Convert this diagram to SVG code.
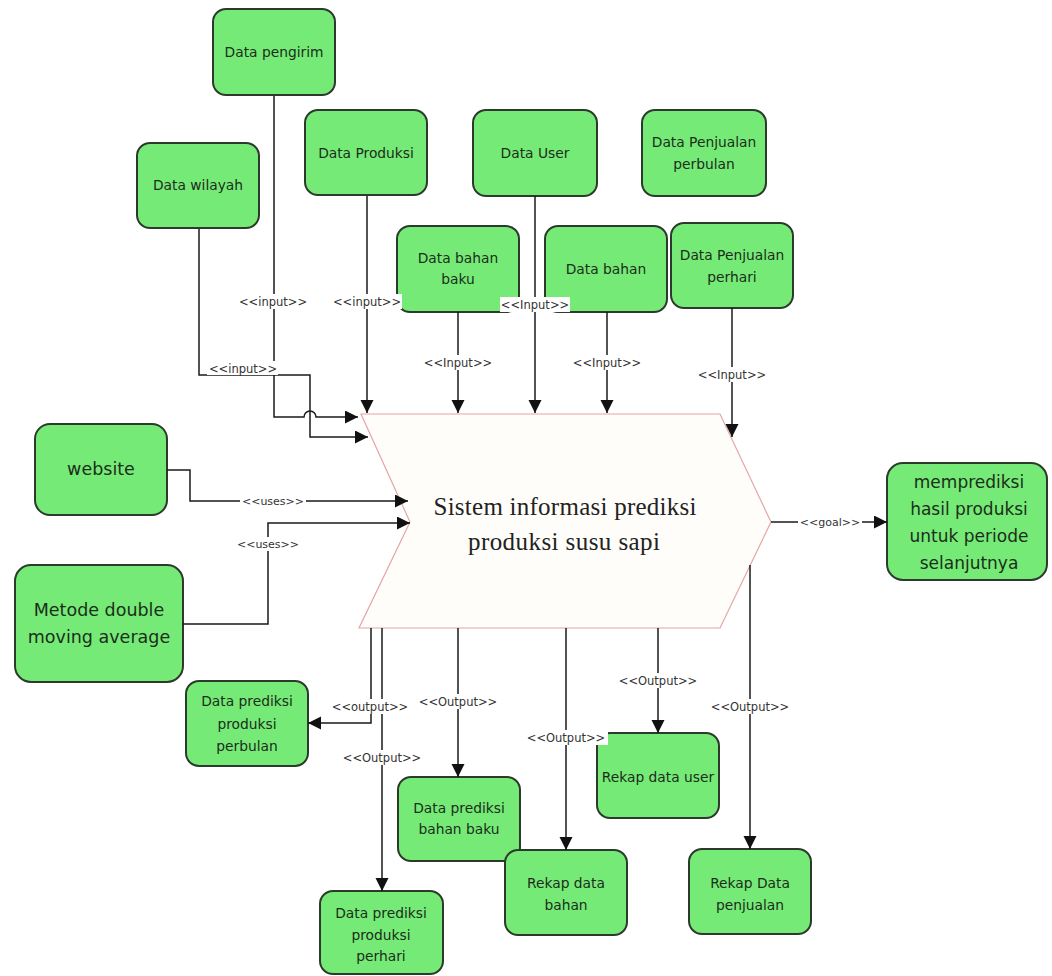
<svg xmlns="http://www.w3.org/2000/svg" width="1052" height="976" viewBox="0 0 1052 976">
<style>
.node{fill:#76ea76;stroke:#2b3a2b;stroke-width:2}
.nt{font-family:"DejaVu Sans",sans-serif;font-size:13.8px;fill:#1b2e1b;text-anchor:middle}
.big{font-size:17.5px}
.goalt{font-size:17px}
.conn{fill:none;stroke:#1a1a1a;stroke-width:1.5}
.lbg{fill:#ffffff}
.lt{font-family:"DejaVu Sans",sans-serif;font-size:11.5px;fill:#333;text-anchor:middle}
.ls{font-size:11px}
.sys{fill:#fffdfa;stroke:#e2a6a6;stroke-width:1.2}
.st{font-family:"Liberation Serif","Times New Roman",serif;font-size:25px;fill:#222;text-anchor:middle}
</style>
<defs>
<marker id="arr" markerUnits="userSpaceOnUse" markerWidth="14" markerHeight="14" refX="13" refY="6.5" orient="auto">
<path d="M0,0 L13,6.5 L0,13 z" fill="#111"/>
</marker>
</defs>
<rect width="1052" height="976" fill="#ffffff"/>

<g id="sistem">
<polygon class="sys" points="361,414 720,414 771,522 720,628 359,628 410,522"/>
<text class="st" x="565" y="515" textLength="263">Sistem informasi prediksi</text>
<text class="st" x="564" y="550" textLength="192">produksi susu sapi</text>
</g>

<g id="data-pengirim"><rect class="node" x="213" y="9" width="122" height="86" rx="13"/><text class="nt" x="274" y="57">Data pengirim</text></g>
<g id="data-wilayah"><rect class="node" x="137" y="143" width="122" height="85" rx="13"/><text class="nt" x="198" y="190">Data wilayah</text></g>
<g id="data-produksi"><rect class="node" x="305" y="110" width="122" height="85" rx="13"/><text class="nt" x="366" y="158">Data Produksi</text></g>
<g id="data-user"><rect class="node" x="473" y="110" width="124" height="86" rx="13"/><text class="nt" x="535" y="158">Data User</text></g>
<g id="data-penjualan-perbulan"><rect class="node" x="642" y="110" width="124" height="86" rx="13"/><text class="nt" x="704" y="147">Data Penjualan</text><text class="nt" x="704" y="169">perbulan</text></g>
<g id="data-bahan-baku"><rect class="node" x="397" y="226" width="122" height="86" rx="13"/><text class="nt" x="458" y="263">Data bahan</text><text class="nt" x="458" y="284">baku</text></g>
<g id="data-bahan"><rect class="node" x="545" y="226" width="122" height="86" rx="13"/><text class="nt" x="606" y="274">Data bahan</text></g>
<g id="data-penjualan-perhari"><rect class="node" x="671" y="223" width="122" height="85" rx="13"/><text class="nt" x="732" y="260">Data Penjualan</text><text class="nt" x="732" y="282">perhari</text></g>
<g id="website"><rect class="node" x="35" y="424" width="132" height="91" rx="15"/><text class="nt big" x="101" y="475">website</text></g>
<g id="metode"><rect class="node" x="15" y="565" width="168" height="117" rx="16"/><text class="nt big" x="99" y="616">Metode double</text><text class="nt big" x="99" y="643">moving average</text></g>
<g id="goal"><rect class="node" x="887" y="463" width="160" height="117" rx="16"/><text class="nt goalt" x="969" y="488">memprediksi</text><text class="nt goalt" x="969" y="515">hasil produksi</text><text class="nt goalt" x="969" y="542">untuk periode</text><text class="nt goalt" x="969" y="569">selanjutnya</text></g>
<g id="prediksi-perbulan"><rect class="node" x="186" y="681" width="122" height="85" rx="13"/><text class="nt" x="247" y="706">Data prediksi</text><text class="nt" x="247" y="729">produksi</text><text class="nt" x="247" y="751">perbulan</text></g>
<g id="prediksi-bahan-baku"><rect class="node" x="398" y="777" width="122" height="84" rx="13"/><text class="nt" x="459" y="813">Data prediksi</text><text class="nt" x="459" y="834">bahan baku</text></g>
<g id="prediksi-perhari"><rect class="node" x="320" y="891" width="123" height="83" rx="13"/><text class="nt" x="381" y="918">Data prediksi</text><text class="nt" x="381" y="940">produksi</text><text class="nt" x="381" y="961">perhari</text></g>
<g id="rekap-bahan"><rect class="node" x="505" y="850" width="122" height="85" rx="13"/><text class="nt" x="566" y="888">Rekap data</text><text class="nt" x="566" y="910">bahan</text></g>
<g id="rekap-user"><rect class="node" x="597" y="733" width="122" height="85" rx="13"/><text class="nt" x="658" y="782">Rekap data user</text></g>
<g id="rekap-penjualan"><rect class="node" x="689" y="849" width="122" height="85" rx="13"/><text class="nt" x="750" y="888">Rekap Data</text><text class="nt" x="750" y="910">penjualan</text></g>

<g id="connectors">
<path class="conn" d="M274,96 V417 H304 a6,6 0 0 1 12,0 H358" marker-end="url(#arr)"/>
<path class="conn" d="M199,229 V375 H310 V437 H368" marker-end="url(#arr)"/>
<path class="conn" d="M367,196 V413" marker-end="url(#arr)"/>
<path class="conn" d="M458,312 V413" marker-end="url(#arr)"/>
<path class="conn" d="M535,196 V413" marker-end="url(#arr)"/>
<path class="conn" d="M607,312 V413" marker-end="url(#arr)"/>
<path class="conn" d="M732,308 V437" marker-end="url(#arr)"/>
<path class="conn" d="M167,470 H190 V501 H408" marker-end="url(#arr)"/>
<path class="conn" d="M183,624 H268 V523 H410" marker-end="url(#arr)"/>
<path class="conn" d="M771,522 H887" marker-end="url(#arr)"/>
<path class="conn" d="M371,628 V723 H308" marker-end="url(#arr)"/>
<path class="conn" d="M382,628 V891" marker-end="url(#arr)"/>
<path class="conn" d="M458,628 V777" marker-end="url(#arr)"/>
<path class="conn" d="M566,628 V850" marker-end="url(#arr)"/>
<path class="conn" d="M658,628 V733" marker-end="url(#arr)"/>
<path class="conn" d="M750,565 V849" marker-end="url(#arr)"/>

<rect class="lbg" x="238" y="294" width="71" height="15"/><text class="lt" x="273" y="306">&lt;&lt;input&gt;&gt;</text>
<rect class="lbg" x="331" y="294" width="71" height="15"/><text class="lt" x="367" y="306">&lt;&lt;input&gt;&gt;</text>
<rect class="lbg" x="207" y="361" width="71" height="14"/><text class="lt" x="243" y="373">&lt;&lt;input&gt;&gt;</text>
<rect class="lbg" x="424" y="355" width="69" height="15"/><text class="lt" x="458" y="367">&lt;&lt;Input&gt;&gt;</text>
<rect class="lbg" x="500" y="297" width="70" height="15"/><text class="lt" x="535" y="309">&lt;&lt;Input&gt;&gt;</text>
<rect class="lbg" x="572" y="355" width="70" height="15"/><text class="lt" x="607" y="367">&lt;&lt;Input&gt;&gt;</text>
<rect class="lbg" x="697" y="367" width="70" height="15"/><text class="lt" x="732" y="379">&lt;&lt;Input&gt;&gt;</text>
<rect class="lbg" x="240" y="494" width="66" height="14"/><text class="lt ls" x="273" y="505">&lt;&lt;uses&gt;&gt;</text>
<rect class="lbg" x="235" y="537" width="66" height="14"/><text class="lt ls" x="268" y="548">&lt;&lt;uses&gt;&gt;</text>
<rect class="lbg" x="798" y="515" width="64" height="14"/><text class="lt ls" x="830" y="526">&lt;&lt;goal&gt;&gt;</text>
<rect class="lbg" x="330" y="699" width="81" height="15"/><text class="lt" x="370" y="711">&lt;&lt;output&gt;&gt;</text>
<rect class="lbg" x="416" y="694" width="84" height="15"/><text class="lt" x="458" y="706">&lt;&lt;Output&gt;&gt;</text>
<rect class="lbg" x="340" y="750" width="84" height="15"/><text class="lt" x="382" y="762">&lt;&lt;Output&gt;&gt;</text>
<rect class="lbg" x="524" y="730" width="84" height="15"/><text class="lt" x="566" y="742">&lt;&lt;Output&gt;&gt;</text>
<rect class="lbg" x="616" y="673" width="84" height="15"/><text class="lt" x="658" y="685">&lt;&lt;Output&gt;&gt;</text>
<rect class="lbg" x="708" y="699" width="84" height="15"/><text class="lt" x="750" y="711">&lt;&lt;Output&gt;&gt;</text>
</g>
</svg>
